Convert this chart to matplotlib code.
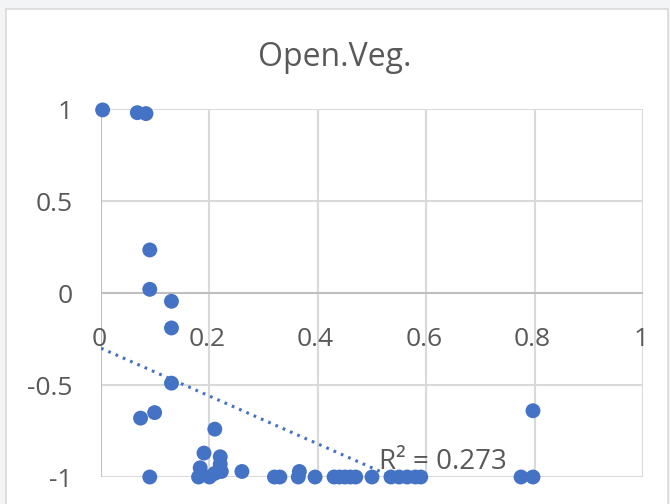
import matplotlib.pyplot as plt
from matplotlib.patches import Rectangle

# data ----------------------------------------------------------------
x_vals = [0.003, 0.067, 0.083, 0.09, 0.09, 0.13, 0.13, 0.13, 0.073, 0.099,
          0.21, 0.19, 0.22, 0.22, 0.183, 0.222, 0.26, 0.09, 0.18, 0.20,
          0.21, 0.32, 0.33, 0.366, 0.364, 0.395, 0.43, 0.44, 0.45, 0.46,
          0.47, 0.50, 0.535, 0.55, 0.565, 0.58, 0.59, 0.775, 0.797, 0.797]
y_vals = [0.995, 0.98, 0.975, 0.234, 0.02, -0.045, -0.19, -0.49, -0.68, -0.65,
          -0.74, -0.87, -0.89, -0.93, -0.95, -0.97, -0.97, -1.0, -1.0, -1.0,
          -0.98, -1.0, -1.0, -0.97, -1.0, -1.0, -1.0, -1.0, -1.0, -1.0,
          -1.0, -1.0, -1.0, -1.0, -1.0, -1.0, -1.0, -1.0, -1.0, -0.64]
trend_coef = [-1.3, -0.30]          # slope, intercept of linear trendline
r2_text = 'R² = 0.273'
x_ticks = [0, 0.2, 0.4, 0.6, 0.8, 1]
y_ticks = [-1, -0.5, 0, 0.5, 1]

blue = '#4472c4'
grey_txt = '#595959'

plt.rcParams['font.family'] = ['Open Sans', 'DejaVu Sans']
fig = plt.figure(figsize=(6.7, 5.04), dpi=100, facecolor='#f3f4f6')
fig.patches.append(Rectangle((5.5 / 670, -0.01), 662 / 670, 1 - 8.5 / 504 + 0.01,
                             transform=fig.transFigure, facecolor='white',
                             edgecolor='#d9d9d9', lw=1.2, zorder=-5))

ax = fig.add_axes([101 / 670, 1 - 477 / 504, 542 / 670, 368 / 504])
ax.set_zorder(2)
ax.set_facecolor('none')
ax.set_xlim(0, 1)
ax.set_ylim(-1, 1)

for t in x_ticks[1:]:
    ax.axvline(t, color='#d9d9d9', lw=1.5, zorder=1)
for t in y_ticks:
    if t != 0:
        ax.axhline(t, color='#d9d9d9', lw=1.5, zorder=1)
ax.axhline(0, color='#bfbfbf', lw=1.5, zorder=1.5)
ax.axvline(0, color='#bfbfbf', lw=1.5, zorder=1.5)

for s in ax.spines.values():
    s.set_visible(False)
ax.set_xticks([])
ax.set_yticks([])

# y tick labels on the left
for t in y_ticks:
    ax.text(-0.053, t - 0.055, '%g' % t, ha='right', va='baseline',
            fontsize=19, color=grey_txt, clip_on=False)
# x tick labels sit under the y=0 axis line
for t in x_ticks:
    ax.text(t - 0.004, -0.29, '%g' % t, ha='center', va='baseline',
            fontsize=19, color=grey_txt, clip_on=False)

# trendline (clipped at the bottom of the axis)
tx = [0, 0.54]
ty = [trend_coef[1] + trend_coef[0] * v for v in tx]
ax.plot(tx, ty, color=blue, lw=2.2, ls=(0, (0.9, 1.7)), zorder=2)

ax.scatter(x_vals, y_vals, s=115, color=blue, zorder=3, clip_on=False,
           edgecolors='none')

ax.text(0.513, -0.955, r2_text, fontsize=20, color=grey_txt, ha='left',
        va='baseline', zorder=4)

fig.text(0.5, 1 - 57 / 504, 'Open.Veg.', ha='center', va='center',
         fontsize=23, color=grey_txt)

fig.savefig('out.png', dpi=100, facecolor=fig.get_facecolor())
